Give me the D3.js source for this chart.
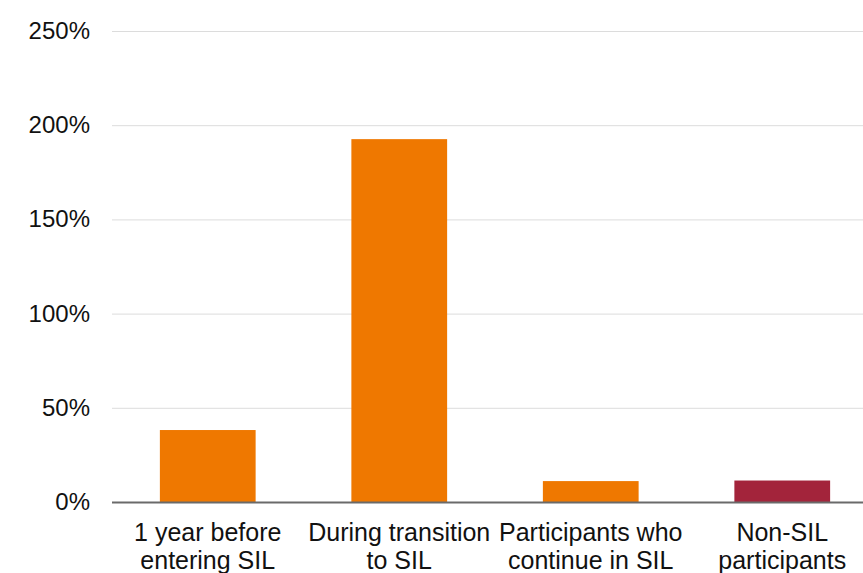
<!DOCTYPE html>
<html lang="en">
  <head>
    <meta charset="UTF-8" />
    <title>SIL bar chart - d3</title>
    <script src="https://d3js.org/d3.v7.min.js"></script>
  </head>
  <style>
    html,
    body {
      margin: 0;
      padding: 0;
      background: #fff;
    }
    text {
      font-family: "Liberation Sans", Arial, sans-serif;
    }
  </style>
  <body>
    <script>
      // data
      var categories = [
        ["1 year before", "entering SIL"],
        ["During transition", "to SIL"],
        ["Participants who", "continue in SIL"],
        ["Non-SIL", "participants"],
      ];
      var values = [38.2, 192.6, 11.1, 11.4];
      var colors = ["#ef7800", "#ef7800", "#ef7800", "#a3243b"];
      var yTicks = [0, 50, 100, 150, 200, 250];

      var width = 863,
        height = 573;

      var svg = d3
        .select("body")
        .append("svg")
        .attr("width", width)
        .attr("height", height);

      var x = d3
        .scaleBand()
        .domain(d3.range(values.length))
        .range([112, 878])
        .paddingInner(0.5)
        .paddingOuter(0.25);

      var y = d3.scaleLinear().domain([0, 250]).range([502, 31]);

      // grid lines
      svg
        .append("g")
        .selectAll("line")
        .data(yTicks.filter(function (d) {
          return d > 0;
        }))
        .enter()
        .append("line")
        .attr("x1", 112)
        .attr("x2", width)
        .attr("y1", function (d) {
          return y(d) + 0.5;
        })
        .attr("y2", function (d) {
          return y(d) + 0.5;
        })
        .attr("stroke", "#dcdcdc")
        .attr("stroke-width", 1);

      // y labels
      svg
        .append("g")
        .selectAll("text")
        .data(yTicks)
        .enter()
        .append("text")
        .attr("x", 90)
        .attr("y", function (d) {
          return y(d) + 8;
        })
        .attr("text-anchor", "end")
        .attr("font-size", 24)
        .attr("fill", "#111")
        .text(function (d) {
          return d + "%";
        });

      // bars
      svg
        .append("g")
        .selectAll("rect")
        .data(values)
        .enter()
        .append("rect")
        .attr("x", function (d, i) {
          return x(i);
        })
        .attr("y", function (d) {
          return y(d);
        })
        .attr("width", x.bandwidth())
        .attr("height", function (d) {
          return y(0) - y(d);
        })
        .attr("fill", function (d, i) {
          return colors[i];
        });

      // baseline
      svg
        .append("line")
        .attr("x1", 112)
        .attr("x2", width)
        .attr("y1", y(0) + 0.5)
        .attr("y2", y(0) + 0.5)
        .attr("stroke", "#6a6a6a")
        .attr("stroke-width", 2);

      // category labels
      var lab = svg
        .append("g")
        .selectAll("text")
        .data(categories)
        .enter()
        .append("text")
        .attr("text-anchor", "middle")
        .attr("font-size", 25)
        .attr("fill", "#111");

      lab
        .selectAll("tspan")
        .data(function (d, i) {
          return d.map(function (s) {
            return { s: s, i: i };
          });
        })
        .enter()
        .append("tspan")
        .attr("x", function (d) {
          return x(d.i) + x.bandwidth() / 2;
        })
        .attr("y", function (d, j) {
          return 541 + j * 28;
        })
        .text(function (d) {
          return d.s;
        });
    </script>
  </body>
</html>
